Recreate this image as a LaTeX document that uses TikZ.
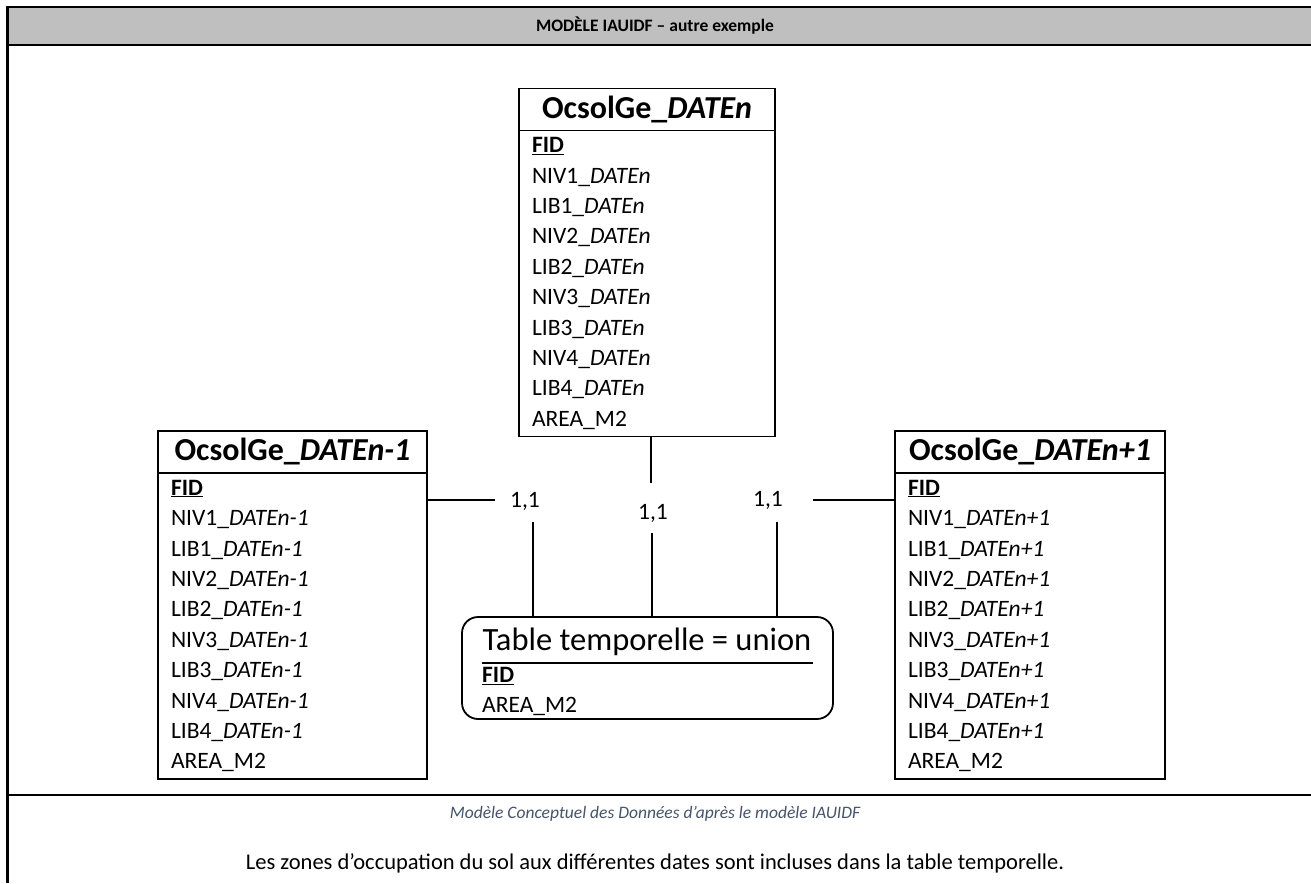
\documentclass[tikz,border=0pt]{standalone}
\usepackage{fontspec}
\setmainfont{Carlito}
\usetikzlibrary{positioning}
\definecolor{headgray}{HTML}{BFBFBF}
\definecolor{captionblue}{HTML}{44546A}

% rows of one OcsolGe table
\newcommand{\ocsrows}[1]{\underline{\textbf{FID}}\\
  NIV1\_\textit{#1}\\ LIB1\_\textit{#1}\\
  NIV2\_\textit{#1}\\ LIB2\_\textit{#1}\\
  NIV3\_\textit{#1}\\ LIB3\_\textit{#1}\\
  NIV4\_\textit{#1}\\ LIB4\_\textit{#1}\\
  AREA\_M2}

\tikzset{
  frame/.style={line width=2.2pt},
  tabhead/.style={draw,line width=1.8pt,outer sep=0pt,inner sep=0pt,minimum height=42pt,
    font=\fontsize{32}{36}\selectfont\bfseries},
  tabbody/.style={draw,line width=1.8pt,outer sep=0pt,inner xsep=13pt,inner ysep=0pt,
    minimum height=306pt,align=left,font=\fontsize{23.5}{30.4}\selectfont},
  card/.style={inner sep=0pt,font=\fontsize{23.5}{28}\selectfont},
  field/.style={inner sep=0pt,anchor=west,font=\fontsize{23.5}{28}\selectfont},
  link/.style={line width=1.8pt},
}

\begin{document}
\begin{tikzpicture}[x=1pt,y=-1pt,line cap=butt]
  \useasboundingbox (0,0) rectangle (1311,883);
  % frame and title band
  \fill[headgray] (7.5,7) rectangle (1311,45.3);
  \draw[frame] (1311,7) -- (7.5,7) -- (7.5,883);
  \draw[frame] (7.5,45.3) -- (1311,45.3);
  \draw[frame] (7.5,795) -- (1311,795);
  \node[font=\fontsize{17.5}{20}\selectfont\bfseries] (title) at (655,26) {MODÈLE IAUIDF – autre exemple};

  % the three tables
  \node[tabhead,minimum width=256pt] (nHead) at (647,109.5) {OcsolGe\_\textit{DATEn}};
  \node[tabbody,text width=230pt,below=0pt of nHead] (nBody) {\ocsrows{DATEn}};

  \node[tabhead,minimum width=269pt] (prevHead) at (292.5,452) {OcsolGe\_\textit{DATEn-1}};
  \node[tabbody,text width=243pt,below=0pt of prevHead] (prevBody) {\ocsrows{DATEn-1}};

  \node[tabhead,minimum width=270pt] (nextHead) at (1030,452) {OcsolGe\_\textit{DATEn+1}};
  \node[tabbody,text width=244pt,below=0pt of nextHead] (nextBody) {\ocsrows{DATEn+1}};

  % union table
  \node[draw,line width=1.8pt,rounded corners=16pt,minimum width=371pt,minimum height=102pt,
    outer sep=0pt] (unionBox) at (647.5,668) {};
  \node[font=\fontsize{32.5}{36}\selectfont] (unionTitle) at (647,642) {Table temporelle = union};
  \draw[link] (482,663) -- (813,663);
  \node[field] (unionKey) at (482,676) {\underline{\textbf{FID}}};
  \node[field] (unionArea) at (482,706) {AREA\_M2};

  % cardinalities
  \node[card] (cardPrev) at (525,501) {1,1};
  \node[card] (cardN) at (653,513) {1,1};
  \node[card] (cardNext) at (768,500) {1,1};
  \coordinate (stubPrev) at (495,500);
  \coordinate (stubN) at (651,483);
  \coordinate (stubNext) at (813,500);
  \coordinate (dropPrev) at (533,522);
  \coordinate (dropN) at (652,533);
  \coordinate (dropNext) at (777,522);
  \draw[link] (prevBody.east |- stubPrev) -- (stubPrev);
  \draw[link] (nBody.south -| stubN) -- (stubN);
  \draw[link] (nextBody.west |- stubNext) -- (stubNext);
  \draw[link] (dropPrev) -- (dropPrev |- unionBox.north);
  \draw[link] (dropN) -- (dropN |- unionBox.north);
  \draw[link] (dropNext) -- (dropNext |- unionBox.north);

  % caption and comment
  \node[font=\fontsize{17.5}{20}\selectfont\itshape,text=captionblue] (caption) at (655,814)
    {Modèle Conceptuel des Données d'après le modèle IAUIDF};
  \node[font=\fontsize{22.5}{26}\selectfont] (comment) at (655,863)
    {Les zones d’occupation du sol aux différentes dates sont incluses dans la table temporelle.};
\end{tikzpicture}
\end{document}
